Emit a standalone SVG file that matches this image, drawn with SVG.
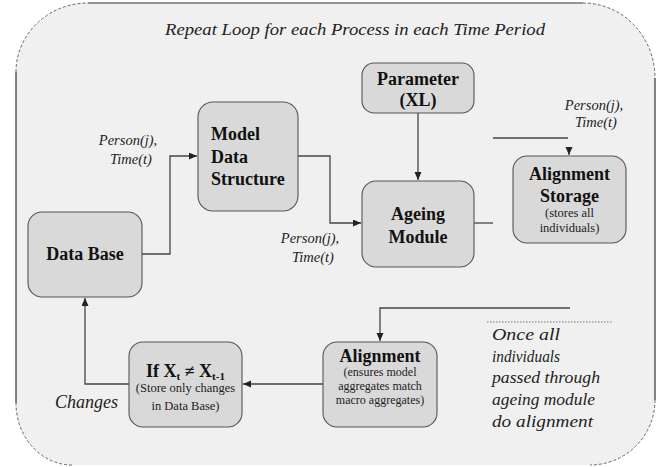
<svg xmlns="http://www.w3.org/2000/svg" width="660" height="467" viewBox="0 0 660 467">
<defs>
<marker id="arr" markerUnits="userSpaceOnUse" markerWidth="9" markerHeight="8" refX="8" refY="3.5" orient="auto">
<path d="M0,0 L8,3.5 L0,7 z" fill="#222"/>
</marker>
<style>
.box{fill:#d9d9d9;stroke:#555;stroke-width:1.1}
.b{font-family:"Liberation Serif",serif;font-weight:bold;font-size:18px;fill:#111}
.s{font-family:"Liberation Serif",serif;font-size:12.5px;fill:#222}
.i{font-family:"Liberation Serif",serif;font-style:italic;font-size:14.5px;fill:#222}
.big{font-family:"Liberation Serif",serif;font-style:italic;font-size:17px;fill:#222}
.c{text-anchor:middle}
.ln{fill:none;stroke:#444;stroke-width:1.3}
.edge{fill:none;stroke:#333;stroke-width:1.2}
.dash{fill:none;stroke:#666;stroke-width:1;stroke-dasharray:3 2}
</style>
</defs>
<rect width="660" height="467" fill="#ffffff"/>
<g id="frame">
<path d="M16,72 A72,69 0 0 1 88,3 H583 A72,75 0 0 1 655,78 V400 A65,65 0 0 1 590,465 H72 A56,62 0 0 1 16,403 Z" fill="#f0f0f0" stroke="none"/>
<path class="edge" d="M88,3 H583 M16,72 V403 M655,78 V400"/>
<path class="dash" d="M16,72 A72,69 0 0 1 88,3 M583,3 A72,75 0 0 1 655,78 M655,400 A65,65 0 0 1 590,465 M72,465 A56,62 0 0 1 16,403"/>
</g>
<g id="title">
<text class="big" x="165" y="35" textLength="380" lengthAdjust="spacingAndGlyphs">Repeat Loop for each Process in each Time Period</text>
</g>
<g id="connectors">
<path class="ln" d="M142,254 H170 V156 H197" marker-end="url(#arr)"/>
<path class="ln" d="M298,156 H330 V223 H361" marker-end="url(#arr)"/>
<path class="ln" d="M418,113 V180" marker-end="url(#arr)"/>
<path class="ln" d="M474,223 H493"/>
<path class="ln" d="M493,138 H568"/>
<path class="ln" d="M569,148 V155" marker-end="url(#arr)"/>
<path class="ln" d="M570,308 H380 V341" marker-end="url(#arr)"/>
<path class="ln" d="M323,384 H243" marker-end="url(#arr)"/>
<path class="ln" d="M129,384 H85 V298" marker-end="url(#arr)"/>
<path d="M487,322 H612" fill="none" stroke="#777" stroke-width="1" stroke-dasharray="1.5 1.5"/>
</g>
<g id="labels">
<text class="i c" x="128" y="145">Person(j),</text>
<text class="i c" x="131" y="164">Time(t)</text>
<text class="i c" x="310" y="243">Person(j),</text>
<text class="i c" x="313" y="262">Time(t)</text>
<text class="i c" x="594" y="110">Person(j),</text>
<text class="i c" x="596" y="127">Time(t)</text>
<text class="big" x="55" y="408" style="font-size:18px">Changes</text>
<text class="big" x="492" y="340" textLength="68" lengthAdjust="spacingAndGlyphs">Once all</text>
<text class="big" x="492" y="362" textLength="68" lengthAdjust="spacingAndGlyphs">individuals</text>
<text class="big" x="492" y="383" textLength="108" lengthAdjust="spacingAndGlyphs">passed through</text>
<text class="big" x="492" y="405" textLength="103" lengthAdjust="spacingAndGlyphs">ageing module</text>
<text class="big" x="492" y="427" textLength="101" lengthAdjust="spacingAndGlyphs">do alignment</text>
</g>
<g id="parameter">
<rect class="box" x="362" y="63" width="112" height="50" rx="12"/>
<text class="b c" x="418" y="85">Parameter</text>
<text class="b c" x="418" y="106">(XL)</text>
</g>
<g id="ageing">
<rect class="box" x="362" y="181" width="112" height="86" rx="14"/>
<text class="b c" x="418" y="220">Ageing</text>
<text class="b c" x="418" y="243">Module</text>
</g>
<g id="storage">
<rect class="box" x="513" y="156" width="113" height="87" rx="14"/>
<text class="b c" x="569.5" y="180">Alignment</text>
<text class="b c" x="569.5" y="202">Storage</text>
<text class="s c" x="569.5" y="217">(stores all</text>
<text class="s c" x="569.5" y="232">individuals)</text>
</g>
<g id="model">
<rect class="box" x="198" y="102" width="100" height="109" rx="15"/>
<text class="b" x="211" y="140">Model</text>
<text class="b" x="211" y="163">Data</text>
<text class="b" x="211" y="185">Structure</text>
</g>
<g id="database">
<rect class="box" x="28" y="212" width="114" height="85" rx="14"/>
<text class="b c" x="85" y="260">Data Base</text>
</g>
<g id="ifbox">
<rect class="box" x="129" y="342" width="113" height="85" rx="14"/>
<text class="b c" x="185.5" y="377">If X<tspan font-size="11" dy="3">t</tspan><tspan dy="-3"> ≠ X</tspan><tspan font-size="11" dy="3">t-1</tspan></text>
<text class="s c" x="185.5" y="392">(Store only changes</text>
<text class="s c" x="185.5" y="410">in Data Base)</text>
</g>
<g id="alignment">
<rect class="box" x="323" y="342" width="114" height="85" rx="14"/>
<text class="b c" x="380" y="362">Alignment</text>
<text class="s c" x="380" y="376" style="font-size:12px">(ensures model</text>
<text class="s c" x="380" y="390" style="font-size:12px">aggregates match</text>
<text class="s c" x="380" y="404" style="font-size:12px">macro aggregates)</text>
</g>
</svg>
